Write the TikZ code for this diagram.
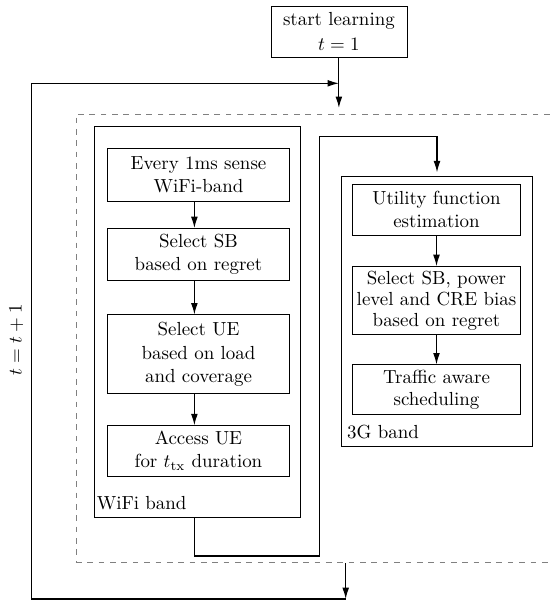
\documentclass[tikz,border=0pt]{standalone}
\usepackage{tikz}
\usetikzlibrary{positioning}
\usetikzlibrary{arrows.meta}
\usetikzlibrary{calc}
\tikzset{flow box/.style={rectangle,draw,thin,align=center,inner xsep=2pt,inner ysep=2pt,minimum width=96pt},
  band box/.style={rectangle,draw,thin,inner sep=0pt},
  band label/.style={anchor=base west,inner sep=0pt},}

\begin{document}
\begin{tikzpicture}[x=0.528pt, y=-0.528pt, >={Latex[length=6pt,width=3.6pt]}, semithick]
	\useasboundingbox (0,0) rectangle (551,602);
	\node[flow box, minimum width=71.8pt, minimum height=27.1pt] (start) at (338.9,31.65) {start learning\\[1pt] $t=1$};

	% outer frame and the two bands
	\node[band box, dashed, gray, minimum width=255.6pt, minimum height=236.9pt] (frame) at (318,338.35) {};
	\node[band box, minimum width=108.4pt, minimum height=206.3pt] (wifi) at (197.35,321.65) {};
	\node[band box, minimum width=100.6pt, minimum height=142.6pt] (gband) at (437,311) {};
	\node[band label] (wifilbl) at ([xshift=1pt,yshift=4.2pt]wifi.south west) {WiFi band};
	\node[band label] (glbl) at ([xshift=2.8pt,yshift=4.2pt]gband.south west) {3G band};

	% WiFi band
	\node[flow box, minimum height=27.7pt] (sense) at (198.5,174.75) {Every 1ms sense\\WiFi-band};
	\node[flow box, minimum height=27.2pt, below=14.1pt of sense] (selsb) {Select SB\\based on regret};
	\node[flow box, minimum height=41.7pt, below=18pt of selsb] (selue) {Select UE\\[1pt] based on load\\and coverage};
	\node[flow box, minimum height=26.8pt, below=16.4pt of selue] (access) {Access UE\\for $t_{\mathrm{tx}}$ duration};

	% 3G band
	\node[flow box, minimum width=88.8pt, minimum height=26.8pt] (utility) at (436.5,209.65) {Utility function\\estimation};
	\node[flow box, minimum width=88.8pt, minimum height=35.9pt, below=16.2pt of utility] (selpow) {Select SB, power\\[-1pt] level and CRE bias\\[-1pt] based on regret};
	\node[flow box, minimum width=88.8pt, minimum height=26.4pt, below=15.6pt of selpow] (traffic) {Traffic aware\\scheduling};

	\node[rotate=90] (tlbl) at (16.3,340) {$t=t+1$};

	\coordinate (wax) at (194.4,556);
	\coordinate (wup) at (319.3,136.3);
	\coordinate (ret) at (345.7,599);
	\coordinate (lcorner) at (31.7,83.3);

	\draw[->] (start) -- ($(start |- frame.north)+(0,-5.7)$);
	\draw[->] (frame.south -| ret) -- (ret);
	\draw[->] (ret) -| (lcorner) -- (lcorner -| start);

	\draw[->] (sense.south -| wax) -- (selsb.north -| wax);
	\draw[->] (selsb.south -| wax) -- (selue.north -| wax);
	\draw[->] (selue.south -| wax) -- (access.north -| wax);
	\draw[->] (wifi.south -| wax) -- (wax) -| (wup) -| ($(gband.north)+(0,-3.3)$);

	\draw[->] (utility) -- (selpow);
	\draw[->] (selpow) -- (traffic);
\end{tikzpicture}
\end{document}
